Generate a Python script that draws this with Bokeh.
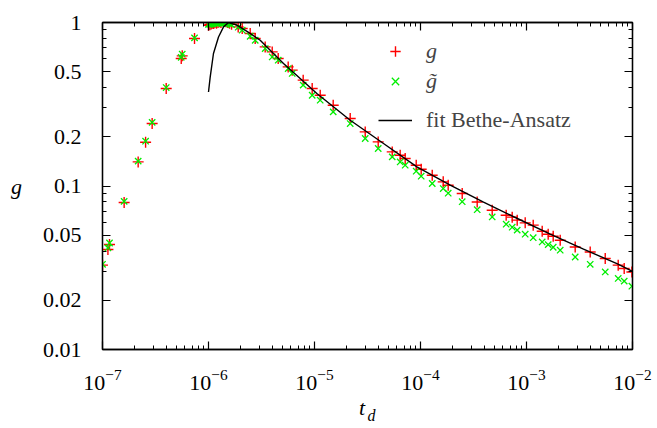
from bokeh.plotting import figure
from bokeh.models import (Range1d, FixedTicker, LogAxis, Legend, LegendItem,
                          CustomJSTickFormatter)
from bokeh.embed import file_html
from bokeh.resources import INLINE

# ---------------- data ----------------
td = [1.0e-7, 1.125e-7, 1.164e-7, 1.60e-7, 2.17e-7, 2.55e-7, 2.94e-7, 3.99e-7,
      5.53e-7, 5.65e-7, 7.38e-7, 1.0e-6,
      1.03e-6, 1.06e-6, 1.09e-6, 1.12e-6, 1.15e-6, 1.19e-6, 1.23e-6, 1.27e-6,
      1.31e-6, 1.36e-6, 1.41e-6, 1.46e-6, 1.52e-6, 1.58e-6, 1.65e-6,
      1.906e-6, 2.079e-6, 2.474e-6, 2.758e-6, 3.426e-6, 3.99e-6, 4.545e-6, 5.646e-6,
      6.16e-6, 7.82e-6, 9.51e-6, 1.132e-5, 1.501e-5, 2.172e-5, 3.009e-5, 3.99e-5,
      5.41e-5, 6.43e-5, 7.17e-5, 9.11e-5, 1.015e-4, 1.29e-4, 1.638e-4, 1.825e-4,
      2.474e-4, 3.426e-4, 4.746e-4, 6.43e-4, 7.33e-4, 8.17e-4, 9.72e-4, 1.157e-3,
      1.406e-3, 1.602e-3, 1.786e-3, 2.079e-3, 2.88e-3, 3.99e-3, 5.53e-3, 7.33e-3,
      8.35e-3, 9.87e-3]

g = [0.0328, 0.0409, 0.0439, 0.0793, 0.1404, 0.1853, 0.2412, 0.3948,
     0.602, 0.625, 0.798, 0.963,
     0.97, 0.98, 0.99, 0.985, 1.0, 0.99, 1.0, 1.01,
     1.0, 1.03, 1.02, 1.01, 1.0, 0.99, 0.975,
     0.940, 0.919, 0.856, 0.798, 0.709, 0.661, 0.602, 0.535,
     0.511, 0.444, 0.395, 0.359, 0.312, 0.2588, 0.2143, 0.1861,
     0.1616, 0.1543, 0.1473, 0.1340, 0.1267, 0.1164, 0.1060, 0.1011,
     0.0900, 0.0799, 0.0711, 0.0663, 0.0645, 0.0618, 0.0595, 0.0576,
     0.0529, 0.0507, 0.0493, 0.0466, 0.0424, 0.0395, 0.0360, 0.0328,
     0.0313, 0.0298]

g_tilde = [0.0332, 0.0418, 0.0448, 0.0805, 0.1420, 0.1880, 0.2450, 0.4000,
           0.612, 0.640, 0.805, 0.975,
           0.975, 0.985, 0.98, 0.99, 0.995, 0.985, 0.99, 0.995,
           1.0, 0.99, 0.995, 0.985, 0.99, 0.98, 0.97,
           0.936, 0.897, 0.824, 0.779, 0.693, 0.616, 0.588, 0.523,
           0.488, 0.414, 0.359, 0.335, 0.284, 0.241, 0.1952, 0.1696,
           0.1507, 0.1404, 0.1340, 0.1232, 0.1148, 0.1036, 0.0965, 0.0904,
           0.0802, 0.0716, 0.0647, 0.0584, 0.0560, 0.0537, 0.0507, 0.0483,
           0.0455, 0.0438, 0.0422, 0.0405, 0.0368, 0.0332, 0.0298, 0.0272,
           0.0262, 0.0244]

fit_td = [1.0e-6, 1.038e-6, 1.114e-6, 1.243e-6, 1.386e-6, 1.545e-6, 1.853e-6,
          2.473e-6, 3.074e-6, 5.10e-6, 1.053e-5, 2.172e-5, 4.477e-5, 9.25e-5,
          1.906e-4, 3.93e-4, 8.11e-4, 1.673e-3, 3.45e-3, 7.13e-3, 1.0e-2]
fit_g = [0.376, 0.465, 0.646, 0.816, 0.940, 1.0, 0.963,
         0.857, 0.779, 0.561, 0.368, 0.2526, 0.182, 0.1309,
         0.1011, 0.0796, 0.0635, 0.0507, 0.0411, 0.0335, 0.0301]

x_tick_vals = [1e-7, 1e-6, 1e-5, 1e-4, 1e-3, 1e-2]
y_tick_vals = [0.01, 0.02, 0.05, 0.1, 0.2, 0.5, 1.0]
y_tick_labels = ["0.01", "0.02", "0.05", "0.1", "0.2", "0.5", "1"]
legend_labels = ["g", "g\u0303", "fit Bethe-Ansatz"]
x_label = ("t", "d")
y_label = "g"

# ---------------- figure ----------------
FONT = "Liberation Serif"
W, H = 657, 428
ML, MR, MT, MB = 102, 25, 22, 79

p = figure(width=W, height=H, x_axis_type="log", y_axis_type="log",
           x_range=Range1d(1e-7, 1e-2), y_range=Range1d(0.01, 1.0),
           output_backend="svg", toolbar_location=None,
           min_border_left=ML, min_border_right=MR,
           min_border_top=MT, min_border_bottom=MB)
p.grid.visible = False
p.outline_line_color = "black"
p.outline_line_width = 1.3
p.background_fill_color = "white"
p.border_fill_color = "white"

x_minor = [m * 10.0 ** e for e in range(-7, -2) for m in range(2, 10)]
y_minor = [m * 10.0 ** e for e in (-2, -1) for m in range(2, 10) if m not in (2, 5)]
xt = FixedTicker(ticks=x_tick_vals, minor_ticks=x_minor)
yt = FixedTicker(ticks=y_tick_vals, minor_ticks=y_minor)


def style_axis(ax):
    ax.axis_line_color = "black"
    ax.axis_line_width = 1.3
    ax.major_tick_in = 8
    ax.major_tick_out = 0
    ax.minor_tick_in = 4
    ax.minor_tick_out = 0
    ax.major_tick_line_color = "black"
    ax.minor_tick_line_color = "black"
    ax.major_tick_line_width = 1.2
    ax.minor_tick_line_width = 1.0
    ax.major_label_text_font = FONT
    ax.major_label_text_font_size = "22px"
    ax.major_label_text_color = "black"
    ax.axis_label_text_font = FONT
    ax.axis_label_text_font_style = "italic"
    ax.axis_label_text_color = "black"


xa = p.xaxis[0]
xa.ticker = xt
style_axis(xa)
xa.major_label_standoff = 20
xa.axis_label = x_label[0] + "\u2002"
xa.axis_label_text_font_size = "22px"
xa.axis_label_standoff = 2

ya = p.yaxis[0]
ya.ticker = yt
style_axis(ya)
ya.major_label_standoff = 21
ya.major_label_overrides = {v: s for v, s in zip(y_tick_vals, y_tick_labels)}
ya.axis_label = y_label
ya.axis_label_orientation = "horizontal"
ya.axis_label_text_font_size = "22px"
ya.axis_label_standoff = 18

# subscript "d" of t_d: an extra, tick-less axis whose label sits just under "t"
sub = LogAxis(ticker=FixedTicker(ticks=[]), axis_line_alpha=0,
              major_tick_in=0, major_tick_out=0, minor_tick_in=0, minor_tick_out=0,
              major_label_standoff=0, axis_label="\u2002" + x_label[1],
              axis_label_standoff=-16, axis_label_text_font=FONT,
              axis_label_text_font_style="italic", axis_label_text_font_size="16px",
              axis_label_text_color="black")
p.add_layout(sub, "below")

blank = CustomJSTickFormatter(code="return ''")
top = LogAxis(ticker=xt, formatter=blank, major_label_standoff=0)
style_axis(top)
p.add_layout(top, "above")
right = LogAxis(ticker=yt, formatter=blank, major_label_standoff=0)
style_axis(right)
p.add_layout(right, "right")

# ---------------- data marks ----------------
r_g = p.scatter(td, g, marker="cross", size=11, line_color="#ff0000", line_width=1.4)
r_gt = p.scatter(td, g_tilde, marker="x", size=9, line_color="#00ee00", line_width=1.3)
r_fit = p.line(fit_td, fit_g, line_color="black", line_width=1.4)

# ---------------- legends ----------------
common = dict(orientation="vertical", border_line_alpha=0, background_fill_alpha=0,
              padding=0, margin=0, spacing=4, glyph_width=34, glyph_height=26,
              label_height=20, label_standoff=14, label_text_font=FONT,
              label_text_font_size="22px")
leg1 = Legend(items=[LegendItem(label=legend_labels[0], renderers=[r_g]),
                     LegendItem(label=legend_labels[1], renderers=[r_gt])],
              location=(276, 255), label_text_font_style="italic", **common)
leg2 = Legend(items=[LegendItem(label=legend_labels[2], renderers=[r_fit])],
              location=(276, 216), **common)
p.add_layout(leg1, "center")
p.add_layout(leg2, "center")

open("out.html", "w").write(file_html(p, INLINE))
